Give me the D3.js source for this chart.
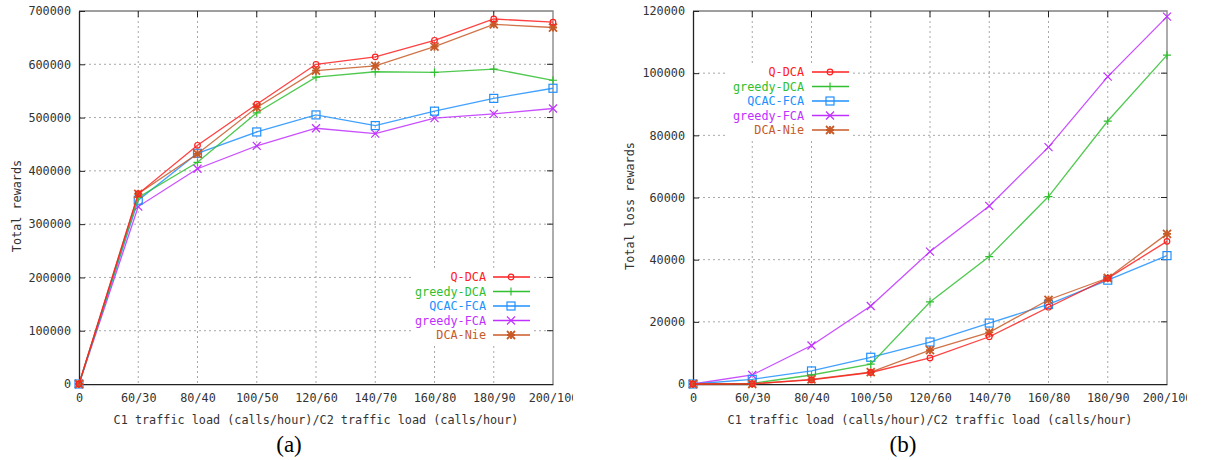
<!DOCTYPE html>
<html>
<head>
<meta charset="utf-8">
<script src="https://cdn.jsdelivr.net/npm/d3@7"></script>
<style>
  body { margin: 0; background: #fff; }
  text { font-family: "DejaVu Sans Mono", "Liberation Mono", monospace; font-size: 11.8px; fill: #333; }
  .grid line { stroke: #a8a8a8; stroke-dasharray: 2,3; }
</style>
</head>
<body>
<div id="chart"></div>
<script>
var w = 1207, h = 460;

// categories on the x axis
var categories = ["0", "60/30", "80/40", "100/50", "120/60", "140/70", "160/80", "180/90", "200/100"];

// (a) total rewards
var rewardQDCA      = [0, 357000, 448000, 525000, 600000, 614000, 645000, 685000, 679000];
var rewardGreedyDCA = [0, 350000, 416000, 509000, 576000, 586000, 585000, 591000, 570000];
var rewardQCAC      = [0, 345000, 433000, 473000, 505000, 485000, 512000, 536000, 555000];
var rewardGreedyFCA = [0, 333000, 404000, 447000, 480000, 470000, 499000, 507000, 517000];
var rewardDCANie    = [0, 357000, 432000, 519000, 588000, 597000, 633000, 675000, 669000];

// (b) total loss rewards
var lossQDCA      = [0, 100, 1300, 3700, 8400, 15200, 24700, 34000, 45900];
var lossGreedyDCA = [0, 200, 2900, 6400, 26400, 41000, 60300, 84600, 105800];
var lossQCAC      = [0, 1500, 4200, 8600, 13500, 19600, 25600, 33400, 41300];
var lossGreedyFCA = [0, 2900, 12400, 25100, 42600, 57300, 76200, 98900, 118200];
var lossDCANie    = [0, 0, 1500, 3800, 10900, 16600, 27100, 34100, 48300];

var seriesNames = ["Q-DCA", "greedy-DCA", "QCAC-FCA", "greedy-FCA", "DCA-Nie"];
var seriesColors = ["#ff2020", "#30c030", "#2090ff", "#c030ff", "#c85a28"];
var seriesMarkers = ["circle", "plus", "square", "cross", "star"];

var rewardTicks = [0, 100000, 200000, 300000, 400000, 500000, 600000, 700000];
var lossTicks = [0, 20000, 40000, 60000, 80000, 100000, 120000];

var svg = d3.select("#chart")
  .append("svg")
  .attr("width", w)
  .attr("height", h);

function marker(g, type, x, y, color) {
  var s = 4;
  if (type === "circle") {
    g.append("circle").attr("cx", x).attr("cy", y).attr("r", 2.8)
      .attr("fill", "none").attr("stroke", color).attr("stroke-width", 1.2);
  } else if (type === "square") {
    g.append("rect").attr("x", x - s).attr("y", y - s).attr("width", 2 * s).attr("height", 2 * s)
      .attr("fill", "none").attr("stroke", color).attr("stroke-width", 1.2);
  } else {
    var p = "";
    if (type === "plus" || type === "star") p += "M" + (x - s) + "," + y + "H" + (x + s) + "M" + x + "," + (y - s) + "V" + (y + s);
    if (type === "cross" || type === "star") p += "M" + (x - s) + "," + (y - s) + "L" + (x + s) + "," + (y + s) + "M" + (x - s) + "," + (y + s) + "L" + (x + s) + "," + (y - s);
    g.append("path").attr("d", p).attr("stroke", color).attr("stroke-width", type === "star" ? 1.8 : 1.2).attr("fill", "none");
  }
}

function drawPanel(opts) {
  var left = opts.left, right = opts.right, top = 11, bottom = 384;

  var xScale = d3.scalePoint().domain(categories).range([left, right]);
  var yScale = d3.scaleLinear().domain([0, d3.max(opts.ticks)]).range([bottom, top]);

  var panel = svg.append("g");

  // clip for the last x label (cut off like the original)
  panel.append("clipPath").attr("id", opts.id + "-clip")
    .append("rect").attr("x", left - 60).attr("y", 0).attr("width", opts.clipRight - left + 60).attr("height", h);

  // grid
  var grid = panel.append("g").attr("class", "grid");
  grid.selectAll(".gx").data(categories.slice(1, -1)).enter().append("line")
    .attr("x1", function(d) { return xScale(d); }).attr("x2", function(d) { return xScale(d); })
    .attr("y1", top).attr("y2", bottom);
  grid.selectAll(".gy").data(opts.ticks.slice(1, -1)).enter().append("line")
    .attr("x1", left).attr("x2", right)
    .attr("y1", function(d) { return yScale(d); }).attr("y2", function(d) { return yScale(d); });

  // legend background hides the grid
  var lg = opts.legend;
  panel.append("rect").attr("x", lg.boxX).attr("y", lg.y - 8).attr("width", lg.boxW).attr("height", 14.5 * 5 + 2).attr("fill", "#fff");

  // border
  panel.append("path").attr("d", "M" + left + "," + top + "H" + right + "V" + bottom)
    .attr("fill", "none").attr("stroke", "#808080").attr("stroke-width", 1.3);

  // X axis
  var xAxis = d3.axisBottom(xScale).tickSizeInner(-6).tickSizeOuter(0).tickPadding(10);
  var gx = panel.append("g")
    .attr("transform", "translate(0," + bottom + ")")
    .attr("clip-path", "url(#" + opts.id + "-clip)")
    .call(xAxis);
  gx.select(".domain").attr("stroke", "#222").attr("stroke-width", 1.3);
  gx.selectAll("line").attr("stroke", "#222");
  gx.selectAll("text").attr("font-size", null).attr("font-family", null).attr("fill", "#333");

  // top mirror ticks
  panel.selectAll(".tt").data(categories.slice(1, -1)).enter().append("line")
    .attr("x1", function(d) { return xScale(d); }).attr("x2", function(d) { return xScale(d); })
    .attr("y1", top).attr("y2", top + 6).attr("stroke", "#222");

  // Y axis
  var yAxis = d3.axisLeft(yScale).tickValues(opts.ticks).tickSizeInner(-6).tickSizeOuter(0).tickPadding(8)
    .tickFormat(d3.format("d"));
  var gy = panel.append("g")
    .attr("transform", "translate(" + left + ",0)")
    .call(yAxis);
  gy.select(".domain").attr("stroke", "#222").attr("stroke-width", 1.3);
  gy.selectAll("line").attr("stroke", "#222");
  gy.selectAll("text").attr("font-size", null).attr("font-family", null).attr("fill", "#333");

  // right mirror ticks
  panel.selectAll(".rt").data(opts.ticks.slice(1, -1)).enter().append("line")
    .attr("x1", right - 6).attr("x2", right)
    .attr("y1", function(d) { return yScale(d); }).attr("y2", function(d) { return yScale(d); })
    .attr("stroke", "#222");

  // lines and markers
  var line = d3.line()
    .x(function(d, i) { return xScale(categories[i]); })
    .y(function(d) { return yScale(d); });

  var order = [3, 2, 1, 4, 0];
  order.forEach(function(k) {
    var vals = opts.series[k];
    var g = panel.append("g");
    g.append("path").datum(vals).attr("d", line)
      .attr("fill", "none").attr("stroke", seriesColors[k]).attr("stroke-width", 1.3).attr("stroke-opacity", 0.85);
    vals.forEach(function(v, i) {
      marker(g, seriesMarkers[k], xScale(categories[i]), yScale(v), seriesColors[k]);
    });
  });

  // legend
  seriesNames.forEach(function(name, k) {
    var y = lg.y + k * 14.5;
    panel.append("text").attr("x", lg.textX).attr("y", y).attr("dy", "0.35em")
      .attr("text-anchor", "end").style("fill", seriesColors[k]).text(name);
    panel.append("line").attr("x1", lg.lineX).attr("x2", lg.lineX + 37).attr("y1", y).attr("y2", y)
      .attr("stroke", seriesColors[k]).attr("stroke-width", 1.5);
    marker(panel, seriesMarkers[k], lg.lineX + 18, y, seriesColors[k]);
  });

  // axis titles
  panel.append("text")
    .attr("x", (left + right) / 2).attr("y", 420).attr("dy", "0.35em")
    .attr("text-anchor", "middle")
    .text("C1 traffic load (calls/hour)/C2 traffic load (calls/hour)");
  panel.append("text")
    .attr("transform", "translate(" + opts.yLabelX + ",206) rotate(-90)")
    .attr("dy", "0.35em")
    .attr("text-anchor", "middle")
    .text(opts.yLabel);

  // panel caption
  panel.append("text")
    .attr("x", (left + right) / 2 - 27).attr("y", 452)
    .attr("text-anchor", "middle")
    .style("font-family", "'Liberation Serif', 'DejaVu Serif', serif")
    .style("font-size", "23px")
    .style("fill", "#000")
    .text(opts.caption);
}

drawPanel({
  id: "a", left: 79, right: 553, clipRight: 573,
  ticks: rewardTicks,
  series: [rewardQDCA, rewardGreedyDCA, rewardQCAC, rewardGreedyFCA, rewardDCANie],
  legend: { y: 277, textX: 486, lineX: 493, boxX: 413, boxW: 120 },
  yLabel: "Total rewards", yLabelX: 17, caption: "(a)"
});

drawPanel({
  id: "b", left: 693, right: 1167, clipRight: 1187,
  ticks: lossTicks,
  series: [lossQDCA, lossGreedyDCA, lossQCAC, lossGreedyFCA, lossDCANie],
  legend: { y: 72, textX: 804, lineX: 812, boxX: 728, boxW: 124 },
  yLabel: "Total loss rewards", yLabelX: 630, caption: "(b)"
});
</script>
</body>
</html>
